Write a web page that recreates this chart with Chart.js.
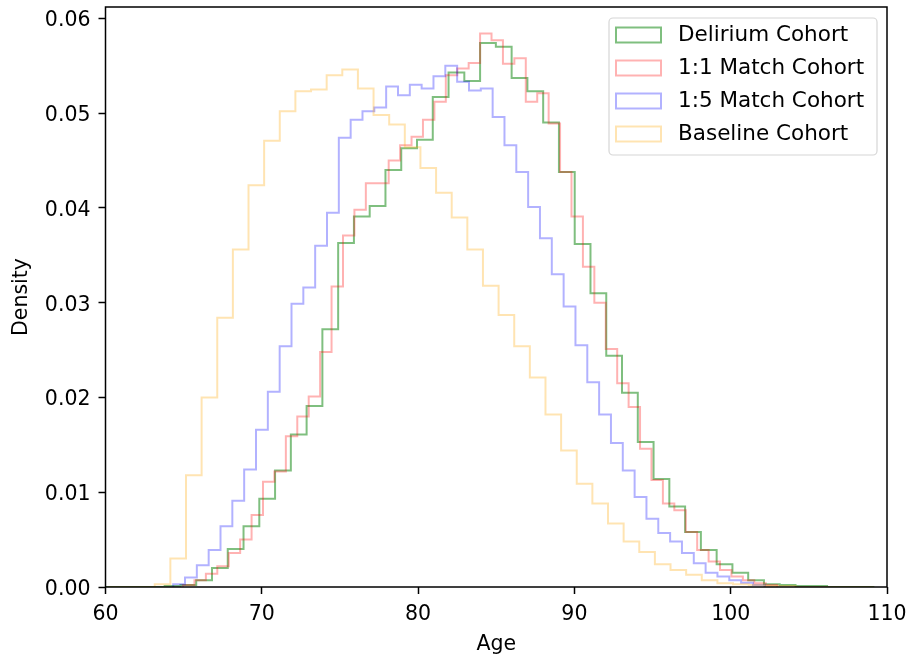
<!DOCTYPE html>
<html lang="en">
<head>
<meta charset="utf-8">
<title>Age density by cohort</title>
<script src="https://cdn.jsdelivr.net/npm/chart.js@4.4.1/dist/chart.umd.min.js"></script>
<style>
  html, body { margin: 0; padding: 0; background: #fff; }
  #wrap { width: 910px; height: 661px; }
</style>
</head>
<body>
<div id="wrap"><canvas id="ageChart" width="910" height="661"></canvas></div>
<script>
// each histogram: left edge of first bin, bin width, density per bin
const deliriumStart = 59.75, deliriumWidth = 1.009;
const deliriumDensity = [0, 0, 0, 0, 0.0001, 0.0002, 0.0007, 0.0020, 0.0040, 0.0064,
  0.0093, 0.0123, 0.0161, 0.0191, 0.0272, 0.0363, 0.0391, 0.0402, 0.0440, 0.0463,
  0.0472, 0.0517, 0.0543, 0.0534, 0.0574, 0.0570, 0.0537, 0.0523, 0.0490, 0.0438,
  0.0362, 0.0310, 0.0244, 0.0205, 0.0153, 0.0114, 0.0085, 0.0058, 0.0039, 0.0024,
  0.0015, 0.0007, 0.0003, 0.0002, 0.0001, 0.0001, 0, 0, 0];

const match11Start = 64.96, match11Width = 0.731;
const match11Density = [0.0002, 0.0007, 0.0014, 0.0022, 0.0036, 0.0050, 0.0076, 0.0111, 0.0122, 0.0159,
  0.0180, 0.0201, 0.0248, 0.0317, 0.0371, 0.0398, 0.0426, 0.0426, 0.0450, 0.0466,
  0.0475, 0.0493, 0.0512, 0.0540, 0.0547, 0.0553, 0.0584, 0.0577, 0.0552, 0.0558,
  0.0512, 0.0521, 0.0489, 0.0438, 0.0391, 0.0338, 0.0300, 0.0251, 0.0215, 0.0190,
  0.0146, 0.0113, 0.0088, 0.0081, 0.0058, 0.0039, 0.0027, 0.0018, 0.0011, 0.0007,
  0.0004, 0.0002];

const match15Start = 64.33, match15Width = 0.757;
const match15Density = [0.0003, 0.0010, 0.0023, 0.0039, 0.0064, 0.0091, 0.0124, 0.0166, 0.0206, 0.0254,
  0.0299, 0.0316, 0.0360, 0.0395, 0.0474, 0.0493, 0.0502, 0.0506, 0.0528, 0.0519,
  0.0530, 0.0526, 0.0539, 0.0550, 0.0533, 0.0524, 0.0526, 0.0496, 0.0466, 0.0438,
  0.0401, 0.0368, 0.0330, 0.0296, 0.0255, 0.0216, 0.0182, 0.0152, 0.0123, 0.0095,
  0.0072, 0.0057, 0.0048, 0.0036, 0.0025, 0.0015, 0.0011, 0.0007, 0.00045, 0.0002];

const baselineStart = 60.15, baselineWidth = 1.0;
const baselineDensity = [0, 0, 0, 0.0003, 0.0030, 0.0118, 0.0200, 0.0284, 0.0356, 0.0424,
  0.0471, 0.0502, 0.0523, 0.0525, 0.0540, 0.0546, 0.0526, 0.0498, 0.0488, 0.0464,
  0.0442, 0.0416, 0.0390, 0.0356, 0.0318, 0.0287, 0.0254, 0.0221, 0.0182, 0.0144,
  0.0109, 0.0088, 0.0067, 0.0048, 0.0037, 0.0024, 0.0018, 0.0013, 0.0007, 0.0004,
  0.0003, 0.0002, 0.0001, 0.0001, 0, 0, 0, 0, 0];

const xTicks = [60, 70, 80, 90, 100, 110];
const yTicks = [0, 0.01, 0.02, 0.03, 0.04, 0.05, 0.06];

const FONT = "'DejaVu Sans', Arial, sans-serif";
const FS = 20.5;

// outline of a step histogram, as in matplotlib histtype='step'
function stepPoints(start, width, dens) {
  var pts = [{x: start, y: 0}];
  for (var i = 0; i < dens.length; i++) {
    pts.push({x: start + i * width, y: dens[i]});
  }
  pts.push({x: start + dens.length * width, y: 0});
  return pts;
}

function histDataset(label, color, order, start, width, dens) {
  return {
    label: label,
    data: stepPoints(start, width, dens),
    borderColor: color,
    borderWidth: 2,
    pointRadius: 0,
    fill: false,
    stepped: true,
    tension: 0,
    order: order
  };
}

// frame around the axes and the boxed legend in the upper right corner
const framePlugin = {
  id: 'frameAndLegend',
  afterDatasetsDraw(chart) {
    const ctx = chart.ctx, a = chart.chartArea;
    ctx.save();
    ctx.strokeStyle = '#000';
    ctx.lineWidth = 1.5;
    ctx.strokeRect(a.left, a.top, a.right - a.left, a.bottom - a.top);

    // legend box
    var bx = 609, by = 18, bw = 268, bh = 137, r = 4;
    ctx.beginPath();
    ctx.moveTo(bx + r, by);
    ctx.arcTo(bx + bw, by, bx + bw, by + bh, r);
    ctx.arcTo(bx + bw, by + bh, bx, by + bh, r);
    ctx.arcTo(bx, by + bh, bx, by, r);
    ctx.arcTo(bx, by, bx + bw, by, r);
    ctx.closePath();
    ctx.fillStyle = 'rgba(255,255,255,0.8)';
    ctx.fill();
    ctx.strokeStyle = '#d6d6d6';
    ctx.lineWidth = 1.2;
    ctx.stroke();

    ctx.font = '21.5px ' + FONT;
    ctx.textBaseline = 'middle';
    ctx.textAlign = 'left';
    chart.data.datasets.forEach(function (ds, i) {
      var cy = 35 + i * 33;
      ctx.strokeStyle = ds.borderColor;
      ctx.lineWidth = 2;
      ctx.strokeRect(616, cy - 7.5, 45, 15);
      ctx.fillStyle = '#000';
      ctx.fillText(ds.label, 678, cy);
    });
    ctx.restore();
  }
};

new Chart(document.getElementById('ageChart'), {
  type: 'line',
  data: {
    datasets: [
      histDataset('Delirium Cohort', 'rgba(0,128,0,0.5)', 4, deliriumStart, deliriumWidth, deliriumDensity),
      histDataset('1:1 Match Cohort', 'rgba(255,0,0,0.3)', 3, match11Start, match11Width, match11Density),
      histDataset('1:5 Match Cohort', 'rgba(0,0,255,0.3)', 2, match15Start, match15Width, match15Density),
      histDataset('Baseline Cohort', 'rgba(255,165,0,0.3)', 1, baselineStart, baselineWidth, baselineDensity)
    ]
  },
  options: {
    responsive: false,
    animation: false,
    devicePixelRatio: 1,
    layout: { padding: { left: 0, right: 23, top: 7, bottom: 0 } },
    plugins: {
      legend: { display: false },
      tooltip: { enabled: false }
    },
    scales: {
      x: {
        type: 'linear',
        min: 60,
        max: 110,
        afterFit: function (s) { s.height = 74; s.paddingLeft = 0; s.paddingRight = 0; },
        afterBuildTicks: function (s) { s.ticks = xTicks.map(function (v) { return {value: v}; }); },
        border: { display: false },
        grid: { drawOnChartArea: false, drawTicks: true, tickLength: 7, tickColor: '#000', tickWidth: 1.5 },
        ticks: {
          color: '#000', padding: 8, maxRotation: 0,
          font: { family: FONT, size: FS },
          callback: function (v) { return String(v); }
        },
        title: {
          display: true, text: 'Age', color: '#000',
          font: { family: FONT, size: FS }, padding: { top: 0, bottom: 4 }
        }
      },
      y: {
        type: 'linear',
        min: 0,
        max: 0.0612,
        afterFit: function (s) { s.width = 105.5; s.paddingTop = 0; s.paddingBottom = 0; },
        afterBuildTicks: function (s) { s.ticks = yTicks.map(function (v) { return {value: v}; }); },
        border: { display: false },
        grid: { drawOnChartArea: false, drawTicks: true, tickLength: 7, tickColor: '#000', tickWidth: 1.5 },
        ticks: {
          color: '#000', padding: 8, labelOffset: 2.5,
          font: { family: FONT, size: FS },
          callback: function (v) { return v.toFixed(2); }
        },
        title: {
          display: true, text: 'Density', color: '#000',
          font: { family: FONT, size: FS }, padding: { top: 9, bottom: 0 }
        }
      }
    }
  },
  plugins: [framePlugin]
});
</script>
</body>
</html>
